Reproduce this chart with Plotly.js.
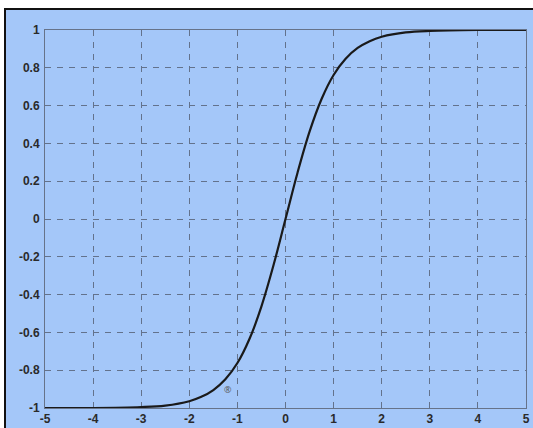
<!DOCTYPE html>
<html>
<head>
<meta charset="utf-8">
<script src="https://cdn.plot.ly/plotly-3.0.1.min.js"></script>
<style>
html,body{margin:0;padding:0;background:#fff;overflow:hidden;}
#wrap{position:absolute;left:4px;top:8px;width:529px;height:420px;border-left:2px solid #111;border-top:2px solid #111;background:#a4c7f9;overflow:hidden;}
#chart{width:527px;height:418px;}
</style>
</head>
<body>
<div id="wrap"><div id="chart"></div></div>
<script>
// values (hyperbolic-tangent-shaped curve)
var xVals = [-5, -4, -3, -2.5, -2, -1.75, -1.5, -1.25, -1, -0.75, -0.5, -0.25, 0, 0.25, 0.5, 0.75, 1, 1.25, 1.5, 1.75, 2, 2.5, 3, 4, 5];
var yVals = [-1, -1, -0.995, -0.987, -0.964, -0.941, -0.905, -0.848, -0.762, -0.635, -0.462, -0.245, 0, 0.245, 0.462, 0.635, 0.762, 0.848, 0.905, 0.941, 0.964, 0.987, 0.995, 1, 1];
var xTicks = [-5, -4, -3, -2, -1, 0, 1, 2, 3, 4, 5];
var yTicks = [-1, -0.8, -0.6, -0.4, -0.2, 0, 0.2, 0.4, 0.6, 0.8, 1];
var xTickText = ["-5", "-4", "-3", "-2", "-1", "0", "1", "2", "3", "4", "5"];
var yTickText = ["-1", "-0.8", "-0.6", "-0.4", "-0.2", "0", "0.2", "0.4", "0.6", "0.8", "1"];

var trace = {
  x: xVals, y: yVals, type: 'scatter', mode: 'lines',
  line: {color: '#1a1a1a', width: 2.2, shape: 'spline', smoothing: 1},
  hoverinfo: 'skip'
};

var axisCommon = {
  showline: true, mirror: true, linecolor: '#66738a', linewidth: 1,
  showgrid: true, gridcolor: '#63728c', gridwidth: 1, griddash: '6px,6px',
  zeroline: false, ticks: '', tickmode: 'array',
  tickfont: {family: 'Liberation Sans, Arial, sans-serif', size: 12, color: '#2a2a2a', weight: 'bold'}
};

var layout = {
  width: 527, height: 418,
  margin: {l: 39, r: 7, t: 20, b: 20},
  paper_bgcolor: '#a4c7f9', plot_bgcolor: '#a4c7f9',
  showlegend: false,
  xaxis: Object.assign({}, axisCommon, {range: [-5, 5], tickvals: xTicks, ticktext: xTickText, ticklabelstandoff: 0}),
  yaxis: Object.assign({}, axisCommon, {range: [-1, 1], tickvals: yTicks, ticktext: yTickText, ticklabelstandoff: 2}),
  annotations: [{x: -1.2, y: -0.9, xref: 'x', yref: 'y', text: '®', showarrow: false,
    font: {size: 9, color: '#555'}}]
};

Plotly.newPlot('chart', [trace], layout, {displayModeBar: false, staticPlot: true});
</script>
</body>
</html>
